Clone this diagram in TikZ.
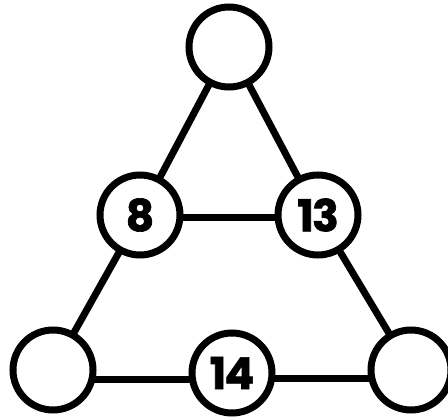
\documentclass[tikz,border=0pt]{standalone}
\usepackage{fontspec}
\newfontfamily\numfont{Poppins}[BoldFeatures={FakeBold=1.5,LetterSpace=-4}]
\usetikzlibrary{backgrounds}
\begin{document}
\begin{tikzpicture}[x=1pt,y=-1pt,
  spot/.style={circle,draw=black,line width=7pt,fill=white,minimum size=80pt,inner sep=0pt,
    font=\numfont\bfseries\fontsize{44}{44}\selectfont},
  link/.style={line width=7pt,draw=black}]
\useasboundingbox (0,0) rectangle (448,418);
\node[spot] (t)  at (229,47) {};
\node[spot] (ml) at (140,215) {8};
\node[spot] (mr) at (318,215) {13};
\node[spot] (bl) at (53,370) {};
\node[spot] (bm) at (232,373) {14};
\node[spot] (br) at (411,370) {};
\begin{scope}[on background layer]
\draw[link] (t.center) -- (ml.center);
\draw[link] (t.center) -- (mr.center);
\draw[link] ([yshift=-2.5pt]ml.center) -- ([yshift=-2.5pt]mr.center);
\draw[link] (ml.center) -- (bl.center);
\draw[link] (mr.center) -- (br.center);
\draw[link] ([yshift=-9pt]bl.center) -- ([yshift=-6pt]bm.center);
\draw[link] ([yshift=-5pt]bm.center) -- ([yshift=-8pt]br.center);
\end{scope}
\end{tikzpicture}
\end{document}
